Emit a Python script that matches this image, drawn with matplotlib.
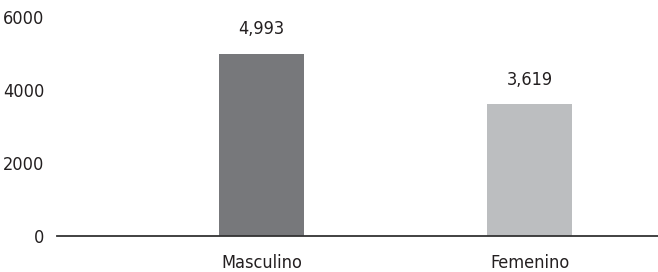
import matplotlib.pyplot as plt

categories = ['Masculino', 'Femenino']
values = [4993, 3619]
value_labels = ['4,993', '3,619']
bar_colors = ['#77787b', '#bcbec0']
yticks = [0, 2000, 4000, 6000]


def main():
    plt.rcParams['font.family'] = ['DejaVu Sans']
    plt.rcParams['font.stretch'] = 'condensed'
    plt.rcParams['font.size'] = 13
    fig = plt.figure(figsize=(6.58, 2.72), dpi=100)
    ax = fig.add_axes([57 / 658, 36 / 272, 601 / 658, 236 / 272])

    x = range(len(categories))
    ax.bar(x, values, width=0.317, color=bar_colors)
    for xi, v, lab in zip(x, values, value_labels):
        ax.annotate(lab, (xi, v), xytext=(0, 11), textcoords='offset points',
                    ha='center', va='bottom', color='#231f20')

    ax.set_xlim(-0.763, 1.479)
    ax.set_ylim(0, 6466)
    ax.set_xticks(list(x))
    ax.set_xticklabels(categories, color='#231f20')
    ax.set_yticks(yticks)
    ax.set_yticklabels([str(t) for t in yticks], color='#231f20')
    ax.tick_params(axis='both', length=0)
    ax.tick_params(axis='y', pad=9)
    ax.tick_params(axis='x', pad=13)
    for side in ['left', 'right', 'top']:
        ax.spines[side].set_visible(False)
    ax.spines['bottom'].set_color('#333333')
    ax.spines['bottom'].set_linewidth(1.3)

    fig.savefig('out.png', dpi=100)


if __name__ == '__main__':
    main()
